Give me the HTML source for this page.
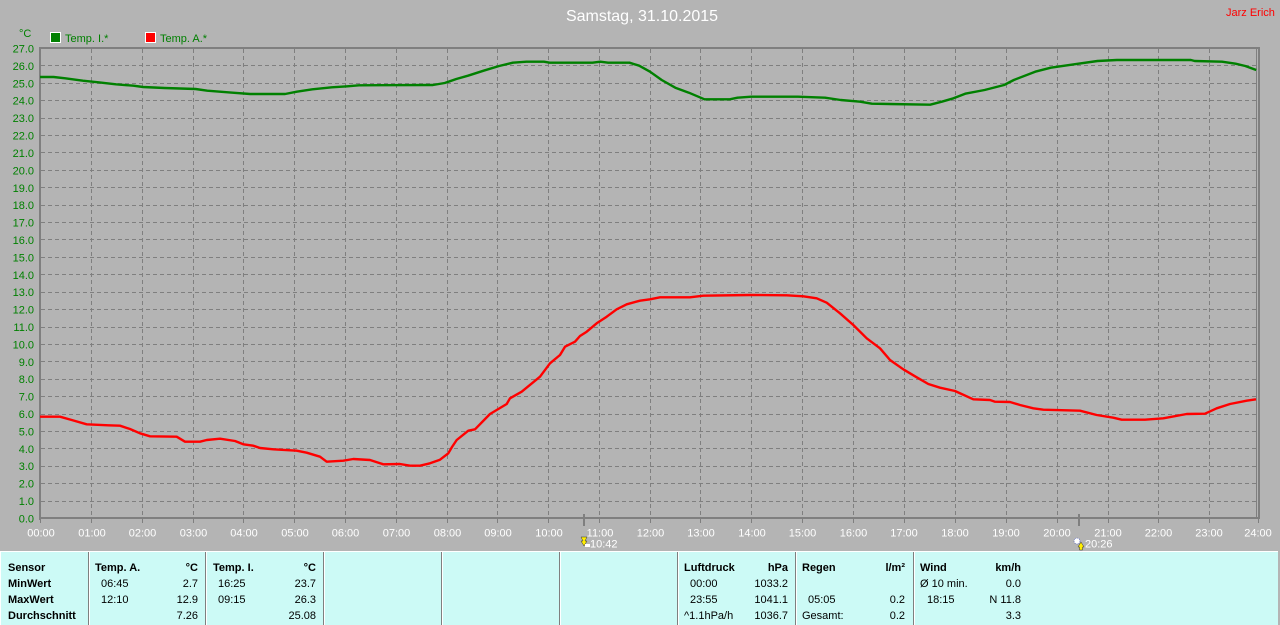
<!DOCTYPE html>
<html><head><meta charset="utf-8">
<style>
html,body{margin:0;padding:0;background:#b4b4b4;}
svg{display:block;}
text{font-family:"Liberation Sans",Arial,sans-serif;}
</style></head>
<body>
<svg width="1280" height="625" viewBox="0 0 1280 625" xmlns="http://www.w3.org/2000/svg">
<rect x="0" y="0" width="1280" height="625" fill="#b4b4b4"/>
<!-- title -->
<text x="642" y="21" font-size="16" fill="#ffffff" text-anchor="middle">Samstag, 31.10.2015</text>
<text x="1226" y="16" font-size="11" fill="#ff0000">Jarz Erich</text>
<!-- legend -->
<text x="19" y="37" font-size="11" fill="#008000">°C</text>
<rect x="50.5" y="32.5" width="10" height="10" fill="#008000" stroke="#ffffff" stroke-width="1"/>
<text x="65" y="42" font-size="11" fill="#008000">Temp. I.*</text>
<rect x="145.5" y="32.5" width="10" height="10" fill="#ff0000" stroke="#ffffff" stroke-width="1"/>
<text x="160" y="42" font-size="11" fill="#008000">Temp. A.*</text>

<!-- grid -->
<g stroke="#7f7f7f" stroke-width="1" stroke-dasharray="4,3" shape-rendering="crispEdges">
<line x1="41" x2="1256" y1="501.5" y2="501.5"/>
<line x1="41" x2="1256" y1="483.5" y2="483.5"/>
<line x1="41" x2="1256" y1="466.5" y2="466.5"/>
<line x1="41" x2="1256" y1="448.5" y2="448.5"/>
<line x1="41" x2="1256" y1="431.5" y2="431.5"/>
<line x1="41" x2="1256" y1="414.5" y2="414.5"/>
<line x1="41" x2="1256" y1="396.5" y2="396.5"/>
<line x1="41" x2="1256" y1="379.5" y2="379.5"/>
<line x1="41" x2="1256" y1="361.5" y2="361.5"/>
<line x1="41" x2="1256" y1="344.5" y2="344.5"/>
<line x1="41" x2="1256" y1="327.5" y2="327.5"/>
<line x1="41" x2="1256" y1="309.5" y2="309.5"/>
<line x1="41" x2="1256" y1="292.5" y2="292.5"/>
<line x1="41" x2="1256" y1="274.5" y2="274.5"/>
<line x1="41" x2="1256" y1="257.5" y2="257.5"/>
<line x1="41" x2="1256" y1="239.5" y2="239.5"/>
<line x1="41" x2="1256" y1="222.5" y2="222.5"/>
<line x1="41" x2="1256" y1="205.5" y2="205.5"/>
<line x1="41" x2="1256" y1="187.5" y2="187.5"/>
<line x1="41" x2="1256" y1="170.5" y2="170.5"/>
<line x1="41" x2="1256" y1="152.5" y2="152.5"/>
<line x1="41" x2="1256" y1="135.5" y2="135.5"/>
<line x1="41" x2="1256" y1="118.5" y2="118.5"/>
<line x1="41" x2="1256" y1="100.5" y2="100.5"/>
<line x1="41" x2="1256" y1="83.5" y2="83.5"/>
<line x1="41" x2="1256" y1="65.5" y2="65.5"/>
<line y1="49" y2="517" x1="91.5" x2="91.5"/>
<line y1="49" y2="517" x1="142.5" x2="142.5"/>
<line y1="49" y2="517" x1="193.5" x2="193.5"/>
<line y1="49" y2="517" x1="243.5" x2="243.5"/>
<line y1="49" y2="517" x1="294.5" x2="294.5"/>
<line y1="49" y2="517" x1="345.5" x2="345.5"/>
<line y1="49" y2="517" x1="396.5" x2="396.5"/>
<line y1="49" y2="517" x1="447.5" x2="447.5"/>
<line y1="49" y2="517" x1="497.5" x2="497.5"/>
<line y1="49" y2="517" x1="548.5" x2="548.5"/>
<line y1="49" y2="517" x1="599.5" x2="599.5"/>
<line y1="49" y2="517" x1="650.5" x2="650.5"/>
<line y1="49" y2="517" x1="700.5" x2="700.5"/>
<line y1="49" y2="517" x1="751.5" x2="751.5"/>
<line y1="49" y2="517" x1="802.5" x2="802.5"/>
<line y1="49" y2="517" x1="853.5" x2="853.5"/>
<line y1="49" y2="517" x1="904.5" x2="904.5"/>
<line y1="49" y2="517" x1="955.5" x2="955.5"/>
<line y1="49" y2="517" x1="1006.5" x2="1006.5"/>
<line y1="49" y2="517" x1="1057.5" x2="1057.5"/>
<line y1="49" y2="517" x1="1108.5" x2="1108.5"/>
<line y1="49" y2="517" x1="1158.5" x2="1158.5"/>
<line y1="49" y2="517" x1="1209.5" x2="1209.5"/>
</g>

<!-- axes / frame -->
<g fill="#7f7f7f" shape-rendering="crispEdges">
<rect x="39" y="47" width="1221" height="2"/>
<rect x="39" y="47" width="2" height="473"/>
<rect x="39" y="517" width="1221" height="2"/>
<rect x="1256" y="47" width="1" height="472"/>
<rect x="1258" y="47" width="2" height="472"/>
</g>
<!-- hour ticks -->
<g stroke="#7f7f7f" stroke-width="1" shape-rendering="crispEdges">
<line x1="40.5" x2="40.5" y1="519" y2="523"/>
<line x1="91.5" x2="91.5" y1="519" y2="523"/>
<line x1="142.5" x2="142.5" y1="519" y2="523"/>
<line x1="193.5" x2="193.5" y1="519" y2="523"/>
<line x1="243.5" x2="243.5" y1="519" y2="523"/>
<line x1="294.5" x2="294.5" y1="519" y2="523"/>
<line x1="345.5" x2="345.5" y1="519" y2="523"/>
<line x1="396.5" x2="396.5" y1="519" y2="523"/>
<line x1="447.5" x2="447.5" y1="519" y2="523"/>
<line x1="497.5" x2="497.5" y1="519" y2="523"/>
<line x1="548.5" x2="548.5" y1="519" y2="523"/>
<line x1="599.5" x2="599.5" y1="519" y2="523"/>
<line x1="650.5" x2="650.5" y1="519" y2="523"/>
<line x1="700.5" x2="700.5" y1="519" y2="523"/>
<line x1="751.5" x2="751.5" y1="519" y2="523"/>
<line x1="802.5" x2="802.5" y1="519" y2="523"/>
<line x1="853.5" x2="853.5" y1="519" y2="523"/>
<line x1="904.5" x2="904.5" y1="519" y2="523"/>
<line x1="955.5" x2="955.5" y1="519" y2="523"/>
<line x1="1006.5" x2="1006.5" y1="519" y2="523"/>
<line x1="1057.5" x2="1057.5" y1="519" y2="523"/>
<line x1="1108.5" x2="1108.5" y1="519" y2="523"/>
<line x1="1158.5" x2="1158.5" y1="519" y2="523"/>
<line x1="1209.5" x2="1209.5" y1="519" y2="523"/>
<line x1="1258.5" x2="1258.5" y1="519" y2="523"/>
</g>
<!-- sunrise / sunset markers -->
<rect x="583" y="514" width="2" height="12" fill="#7f7f7f"/>
<rect x="1078" y="514" width="2" height="12" fill="#7f7f7f"/>

<!-- y labels -->
<g font-size="11" fill="#008000" text-anchor="end">
<text x="34" y="52.5">27.0</text>
<text x="34" y="70">26.0</text>
<text x="34" y="87.5">25.0</text>
<text x="34" y="104.5">24.0</text>
<text x="34" y="122">23.0</text>
<text x="34" y="139.5">22.0</text>
<text x="34" y="157">21.0</text>
<text x="34" y="174.5">20.0</text>
<text x="34" y="192">19.0</text>
<text x="34" y="209">18.0</text>
<text x="34" y="226.5">17.0</text>
<text x="34" y="244">16.0</text>
<text x="34" y="261.5">15.0</text>
<text x="34" y="279">14.0</text>
<text x="34" y="296">13.0</text>
<text x="34" y="313.5">12.0</text>
<text x="34" y="331">11.0</text>
<text x="34" y="348.5">10.0</text>
<text x="34" y="366">9.0</text>
<text x="34" y="383">8.0</text>
<text x="34" y="400.5">7.0</text>
<text x="34" y="418">6.0</text>
<text x="34" y="435.5">5.0</text>
<text x="34" y="453">4.0</text>
<text x="34" y="470">3.0</text>
<text x="34" y="487.5">2.0</text>
<text x="34" y="505">1.0</text>
<text x="34" y="522.5">0.0</text>
</g>
<!-- x labels -->
<g font-size="11" fill="#ffffff" text-anchor="middle">
<text x="41" y="536.5">00:00</text>
<text x="92" y="536.5">01:00</text>
<text x="142.5" y="536.5">02:00</text>
<text x="193.5" y="536.5">03:00</text>
<text x="244" y="536.5">04:00</text>
<text x="295" y="536.5">05:00</text>
<text x="345.5" y="536.5">06:00</text>
<text x="396.5" y="536.5">07:00</text>
<text x="447.5" y="536.5">08:00</text>
<text x="498" y="536.5">09:00</text>
<text x="549" y="536.5">10:00</text>
<text x="600" y="536.5">11:00</text>
<text x="650.5" y="536.5">12:00</text>
<text x="701" y="536.5">13:00</text>
<text x="752" y="536.5">14:00</text>
<text x="802.5" y="536.5">15:00</text>
<text x="853.5" y="536.5">16:00</text>
<text x="904" y="536.5">17:00</text>
<text x="955" y="536.5">18:00</text>
<text x="1006" y="536.5">19:00</text>
<text x="1057" y="536.5">20:00</text>
<text x="1108" y="536.5">21:00</text>
<text x="1158.5" y="536.5">22:00</text>
<text x="1209" y="536.5">23:00</text>
<text x="1258" y="536.5">24:00</text>
</g>
<!-- sun icons -->
<polygon points="581,537 587,537 585,541 587,541 584,546 581,541 583,541" fill="#ffee00" stroke="#333" stroke-width="0.5"/>
<rect x="585" y="544" width="5" height="3" fill="#ffffff"/>
<text x="590" y="547.5" font-size="11" fill="#ffffff">10:42</text>
<circle cx="1077" cy="541" r="3" fill="#ffffff" stroke="#3344aa" stroke-width="0.6" stroke-dasharray="1,1"/>
<polygon points="1081,542 1084,547 1082.5,547 1082.5,550 1079.5,550 1079.5,547 1078,547" fill="#ffee00" stroke="#333" stroke-width="0.5"/>
<text x="1085" y="547.5" font-size="11" fill="#ffffff">20:26</text>

<!-- series -->
<polyline fill="none" stroke="#008000" stroke-width="2.4" stroke-linejoin="round" points="40,77 53.6,77 65.3,78.3 82.8,80.7 98.4,82.3 115.9,84.3 133.4,85.7 143.1,87 164.5,88 195.6,89 207.3,90.7 232.6,92.7 250.1,94 285.1,94 296.8,91.7 312.4,89.3 331.8,87.3 347.4,86.3 359,85.3 433,85 444.7,83 448.6,81.7 456.3,79 468,75.7 483.6,70.7 499.1,66 512.8,62.7 526.4,61.7 543.9,61.7 549.7,62.7 592.5,62.7 600.3,61.7 608.1,62.7 629.5,62.7 639.2,65.7 650,71.7 661.7,80 675.3,87.7 688.9,92.7 704.5,99.3 729.8,99.3 737.5,97.7 751.2,96.7 797.9,96.7 825.1,97.7 840.7,100 860.1,101.7 871.8,103.7 930.2,104.7 941.8,101.7 953.5,98.3 965.2,93.7 984.6,90 1004.1,85 1013.8,80 1035.2,71.7 1050.8,67.7 1074.1,64.3 1097.5,61 1116.9,60 1190.9,60 1194.7,61 1222,61.7 1235.6,63.7 1245.3,66 1256.2,70"/>
<polyline fill="none" stroke="#ff0000" stroke-width="2.4" stroke-linejoin="round" points="40,416.7 60,416.7 71.7,420 86.7,424.3 108.3,425.3 120,425.7 130,429 140,433.3 150,436.3 176.7,436.7 185,441.7 200,441.7 206.7,440 220,438.7 235,441 243.3,444.3 253.3,445.7 260,448 273.3,449.3 296.7,450.7 306.7,452.7 320,456.7 326.7,461.7 343.3,460.7 353.3,459 370,460 383.3,464.3 400,464 410,465.7 420,465.7 430,463.3 440,459.7 448.3,453.3 452,447 456.7,440 468.3,430.7 475,429.3 490,414 506.7,404 510,398.3 521.7,391.7 540,376.7 550,363.3 560,355 565,346.7 575,341.7 580,336 586.7,331.7 596.7,323.3 606.7,316.7 616.7,309.3 626.7,304.3 640,300.7 650,299.3 660,297.3 690,297.3 703.3,295.7 750,295 786.7,295.3 803.3,296.3 816.7,298.3 826.7,302.7 840,313.3 853.3,325 866.7,338.3 880,348.3 890,360 903.3,369.3 916.7,377.3 928.3,384 940,387.7 955,391 973.3,399.3 990,400 995,401.7 1010,402 1020,405 1033.3,408.3 1043.3,409.7 1080,410.7 1096.7,415 1113.3,417.7 1121.7,419.7 1145,419.7 1163.3,418.3 1186.7,414 1205,413.7 1216.7,408.3 1230,404 1246.7,400.7 1256,399.3"/>

<!-- bottom panel -->
<rect x="0" y="551" width="1278" height="74" fill="#ccfaf6"/>
<rect x="0" y="551" width="1278" height="1" fill="#ffffff"/>
<rect x="0" y="551" width="1" height="74" fill="#ffffff"/>
<g shape-rendering="crispEdges">
<rect x="88" y="552" width="1" height="73" fill="#7f7f7f"/><rect x="89" y="552" width="1" height="73" fill="#ffffff"/>
<rect x="205" y="552" width="1" height="73" fill="#7f7f7f"/><rect x="206" y="552" width="1" height="73" fill="#ffffff"/>
<rect x="323" y="552" width="1" height="73" fill="#7f7f7f"/><rect x="324" y="552" width="1" height="73" fill="#ffffff"/>
<rect x="441" y="552" width="1" height="73" fill="#7f7f7f"/><rect x="442" y="552" width="1" height="73" fill="#ffffff"/>
<rect x="559" y="552" width="1" height="73" fill="#7f7f7f"/><rect x="560" y="552" width="1" height="73" fill="#ffffff"/>
<rect x="677" y="552" width="1" height="73" fill="#7f7f7f"/><rect x="678" y="552" width="1" height="73" fill="#ffffff"/>
<rect x="795" y="552" width="1" height="73" fill="#7f7f7f"/><rect x="796" y="552" width="1" height="73" fill="#ffffff"/>
<rect x="913" y="552" width="1" height="73" fill="#7f7f7f"/><rect x="914" y="552" width="1" height="73" fill="#ffffff"/>
</g>
<g font-size="11" fill="#000000">
<g font-weight="bold">
<text x="8" y="571">Sensor</text>
<text x="8" y="587">MinWert</text>
<text x="8" y="603">MaxWert</text>
<text x="8" y="619">Durchschnitt</text>
<text x="95" y="571">Temp. A.</text>
<text x="198" y="571" text-anchor="end">°C</text>
<text x="213" y="571">Temp. I.</text>
<text x="316" y="571" text-anchor="end">°C</text>
<text x="684" y="571">Luftdruck</text>
<text x="788" y="571" text-anchor="end">hPa</text>
<text x="802" y="571">Regen</text>
<text x="905" y="571" text-anchor="end">l/m²</text>
<text x="920" y="571">Wind</text>
<text x="1021" y="571" text-anchor="end">km/h</text>
</g>
<text x="101" y="587">06:45</text>
<text x="198" y="587" text-anchor="end">2.7</text>
<text x="101" y="603">12:10</text>
<text x="198" y="603" text-anchor="end">12.9</text>
<text x="198" y="619" text-anchor="end">7.26</text>
<text x="218" y="587">16:25</text>
<text x="316" y="587" text-anchor="end">23.7</text>
<text x="218" y="603">09:15</text>
<text x="316" y="603" text-anchor="end">26.3</text>
<text x="316" y="619" text-anchor="end">25.08</text>
<text x="690" y="587">00:00</text>
<text x="788" y="587" text-anchor="end">1033.2</text>
<text x="690" y="603">23:55</text>
<text x="788" y="603" text-anchor="end">1041.1</text>
<text x="684" y="619">^1.1hPa/h</text>
<text x="788" y="619" text-anchor="end">1036.7</text>
<text x="808" y="603">05:05</text>
<text x="905" y="603" text-anchor="end">0.2</text>
<text x="802" y="619">Gesamt:</text>
<text x="905" y="619" text-anchor="end">0.2</text>
<text x="920" y="587">Ø 10 min.</text>
<text x="1021" y="587" text-anchor="end">0.0</text>
<text x="927" y="603">18:15</text>
<text x="1021" y="603" text-anchor="end">N 11.8</text>
<text x="1021" y="619" text-anchor="end">3.3</text>
</g>
</svg>
</body></html>
